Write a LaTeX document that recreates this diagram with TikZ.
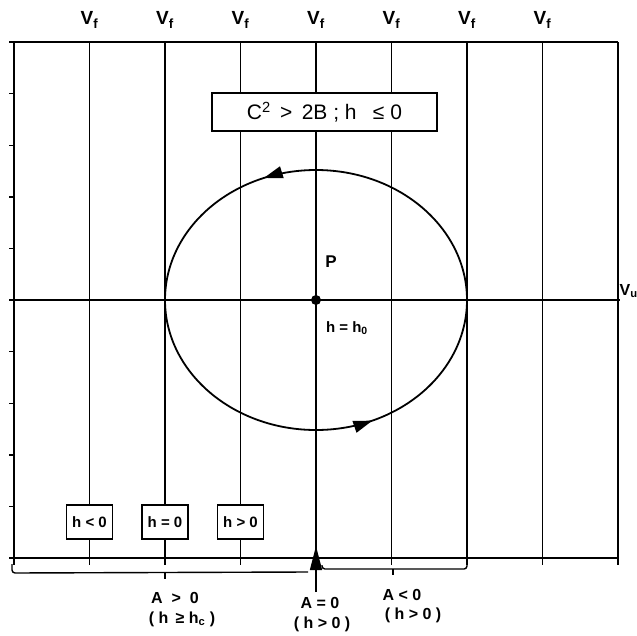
\documentclass[tikz,border=0pt]{standalone}
\usepackage{fontspec}
\setmainfont{Liberation Sans}
\usetikzlibrary{arrows.meta,decorations.markings}
\begin{document}
\begin{tikzpicture}[x=1pt, y=-1pt, line width=1.4pt,
        every node/.style={font=\bfseries\fontsize{16}{18}\selectfont},
        casebox/.style={draw, fill=white, minimum width=46pt, minimum height=34pt, inner sep=1pt, font=\bfseries\fontsize{15}{17}\selectfont},
        orbit/.style={line width=1.8pt, postaction={decorate}, decoration={markings,
            mark=at position 0.185 with {\arrowreversed{Triangle[length=19pt,width=12pt]}},
            mark=at position 0.69 with {\arrowreversed{Triangle[length=19pt,width=12pt]}}}}]
    \useasboundingbox (0,0) rectangle (637,635);
    % cadre et graduations
    \draw (14,42) -- (618,42);
    \draw (14,42) -- (14,565);
    \draw (618,42) -- (618,565);
    \draw (9,558) -- (618,558);
    \foreach \k in {0,...,10} { \draw (9,{42+51.6*\k}) -- (14,{42+51.6*\k}); }

    % droites V_f
    \foreach \i in {1,...,7} {
        \draw ({14+75.5*\i},42) -- ({14+75.5*\i},565);
        \node (vf\i) at ({14+75.5*\i},20) {\fontsize{19}{21}\selectfont V\textsubscript{f}};
    }

    % axe V_u et point P
    \draw (14,300) -- (620,300);
    \node[anchor=west, inner sep=0pt] (vu) at (619,291) {\fontsize{16}{18}\selectfont V\textsubscript{u}};
    \node[circle, fill, inner sep=0pt, minimum size=10pt] (P) at (316,300) {};
    \node[font=\bfseries\fontsize{17}{19}\selectfont] (Plab) at (331,262) {P};
    \node[anchor=west, font=\bfseries\fontsize{15}{17}\selectfont] (hP) at (322,328) {h = h\textsubscript{0}};

    \draw[orbit] (P) ellipse [x radius=151, y radius=130];

    \node[draw, fill=white, minimum width=225pt, minimum height=38pt, font=\fontsize{21}{23}\selectfont] (cond) at (324.5,112)
        {C\textsuperscript{2} \,>\, 2B ; h \enspace≤ 0};

    % cas h
    \foreach \i/\t in {1/{h < 0}, 2/{h = 0}, 3/{h > 0}}
        \node[casebox] (hb\i) at ({14+75.5*\i},522) {\t};

    % accolades et fleche A = 0
    \draw[rounded corners=3pt] (12,564) -- (12,573) -- (308,572);
    \draw (165,573) -- (165,579);
    \draw[rounded corners=3pt] (322,565) -- (322,569) -- (467,569) -- (467,558);
    \draw (393,569) -- (393,575);
    \coordinate (tail) at (316,592);
    \coordinate (tip) at (316,546);
    \draw[-{Triangle[length=24pt,width=12pt]}] (tail) -- (tip);

    \node (apos) at (175,598) {A \ > \ 0};
    \node (hpos) at (182,619) {( h \,≥ h\textsubscript{c} )};
    \node (azero) at (320,603) {A = 0};
    \node (hzero) at (322,624) {( h > 0 )};
    \node (aneg) at (402,595) {A < 0};
    \node (hneg) at (413,615) {( h > 0 )};
\end{tikzpicture}
\end{document}
